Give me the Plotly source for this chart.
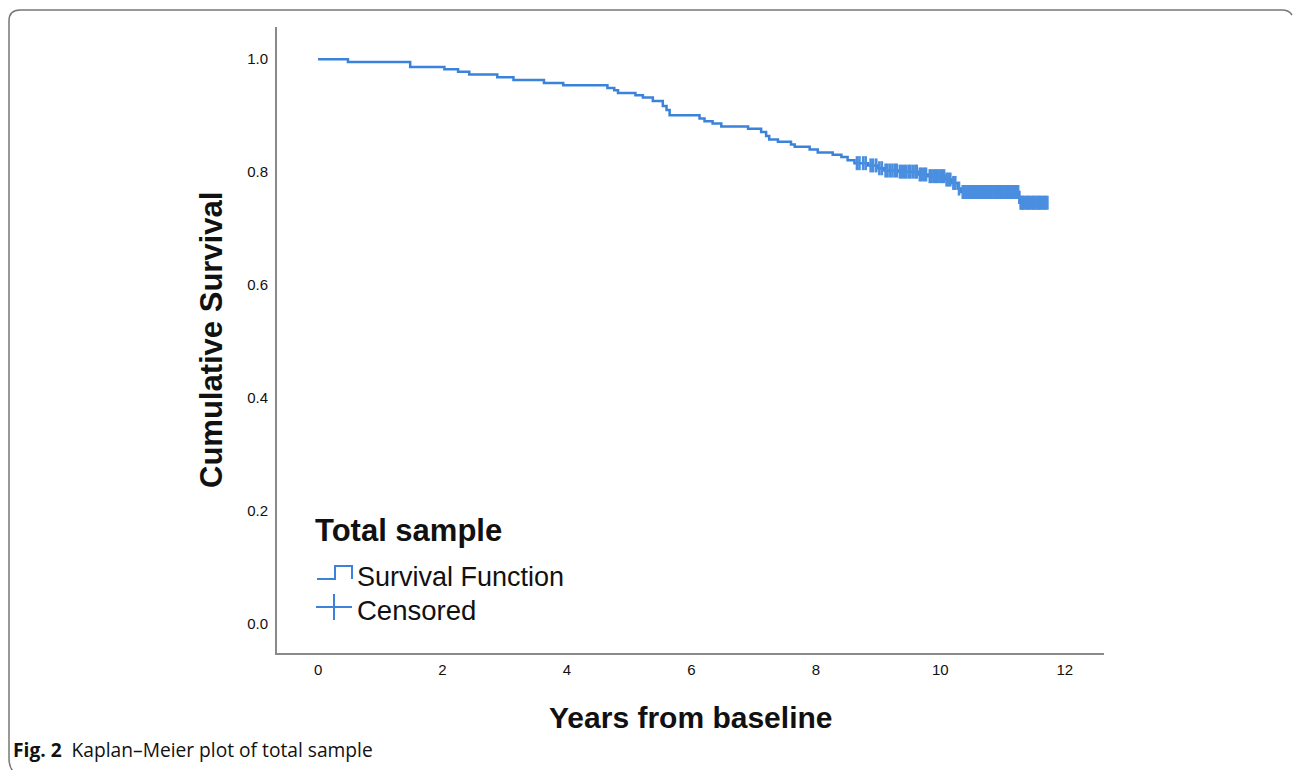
import plotly.graph_objects as go

# ---- data ----
step_times = [0.0, 0.48, 1.48, 2.03, 2.25, 2.43, 2.88, 3.14, 3.63, 3.94, 4.65, 4.76, 4.82,
              5.10, 5.22, 5.38, 5.54, 5.60, 5.65, 6.13, 6.21, 6.34, 6.48, 6.91, 7.12, 7.20,
              7.25, 7.39, 7.60, 7.66, 7.90, 8.03, 8.27, 8.41, 8.51, 8.62, 8.84, 9.00, 9.10,
              9.32, 9.64, 9.80, 10.07, 10.18, 10.28, 10.33, 11.27]
step_surv = [1.000, 0.995, 0.986, 0.982, 0.978, 0.973, 0.968, 0.963, 0.958, 0.954, 0.949, 0.945,
             0.940, 0.936, 0.932, 0.926, 0.917, 0.910, 0.901, 0.895, 0.890, 0.886, 0.881, 0.877,
             0.871, 0.864, 0.858, 0.854, 0.849, 0.845, 0.840, 0.835, 0.831, 0.827, 0.821, 0.816,
             0.812, 0.807, 0.803, 0.801, 0.796, 0.793, 0.787, 0.781, 0.771, 0.765, 0.746]
end_time = 11.72

censor_times = [8.66, 8.70, 8.76, 8.80, 8.88, 8.92, 8.97, 9.02, 9.06, 9.12, 9.15, 9.19, 9.23,
                9.27, 9.30, 9.35, 9.38, 9.42, 9.45, 9.49, 9.52, 9.56, 9.60, 9.62, 9.67, 9.70,
                9.74, 9.77, 9.83, 9.86, 9.90, 9.93, 9.96, 10.00, 10.03, 10.06, 10.10, 10.13,
                10.16, 10.21, 10.24, 10.30, 10.36, 10.39, 10.42, 10.44, 10.46, 10.48, 10.51, 10.53,
                10.55, 10.57, 10.60, 10.62, 10.64, 10.66, 10.69, 10.71, 10.73, 10.75, 10.78,
                10.80, 10.82, 10.84, 10.87, 10.89, 10.91, 10.93, 10.96, 10.98, 11.00, 11.02,
                11.05, 11.07, 11.09, 11.11, 11.14, 11.16, 11.18, 11.20, 11.23, 11.25, 11.29,
                11.31, 11.33, 11.35, 11.38, 11.40, 11.42, 11.44, 11.47, 11.49, 11.51, 11.53,
                11.56, 11.58, 11.60, 11.62, 11.65, 11.67, 11.69, 11.72]

x_ticks = [0, 2, 4, 6, 8, 10, 12]
y_ticks = [0.0, 0.2, 0.4, 0.6, 0.8, 1.0]
y_tick_labels = ["0.0", "0.2", "0.4", "0.6", "0.8", "1.0"]

legend_title = "Total sample"
series_names = ["Survival Function", "Censored"]
x_title = "Years from baseline"
y_title = "Cumulative Survival"

BLUE = "#3b82da"
FONT = "Liberation Sans, Arial"


def surv_at(t):
    s = step_surv[0]
    for tt, ss in zip(step_times, step_surv):
        if tt <= t:
            s = ss
    return s


censor_surv = [surv_at(t) for t in censor_times]

# ---- figure geometry (pixels) ----
W, H = 1293, 770
L, R, T, B = 277, 189, 27, 117
PW, PH = W - L - R, H - T - B


def px(x):
    return (x - L) / PW


def py(y):
    return (H - B - y) / PH


fig = go.Figure()
fig.add_trace(go.Scatter(
    x=step_times + [end_time], y=step_surv + [step_surv[-1]],
    mode="lines", line=dict(color=BLUE, width=2.5, shape="hv"),
    name=series_names[0], showlegend=False, hoverinfo="skip"))
fig.add_trace(go.Scatter(
    x=censor_times, y=censor_surv, mode="markers",
    marker=dict(symbol="line-ns", size=10, line=dict(color="#4a8ee0", width=2.6)),
    name=series_names[1], showlegend=False, hoverinfo="skip"))

axis_common = dict(showgrid=False, zeroline=False, showline=True, linecolor="#8a8a8a",
                   linewidth=2, ticks="", tickfont=dict(family=FONT, size=15, color="#111"))

fig.update_xaxes(range=[-0.66, 12.63], tickvals=x_ticks, ticktext=[str(v) for v in x_ticks],
                 ticklabelstandoff=2, **axis_common)
fig.update_yaxes(range=[-0.051, 1.057], tickvals=y_ticks, ticktext=y_tick_labels,
                 ticklabelstandoff=4, **axis_common)

ann = []
# axis titles
ann.append(dict(x=px(690), y=py(717), xref="paper", yref="paper", text="<b>%s</b>" % x_title,
                showarrow=False, font=dict(family=FONT, size=30, color="#111"),
                xanchor="center", yanchor="middle"))
ann.append(dict(x=px(211), y=py(340), xref="paper", yref="paper", text="<b>%s</b>" % y_title,
                showarrow=False, textangle=-90,
                font=dict(family=FONT, size=31, color="#111"),
                xanchor="center", yanchor="middle"))
# custom legend
ann.append(dict(x=px(313), y=py(530), xref="paper", yref="paper", text="<b>%s</b>" % legend_title,
                showarrow=False, font=dict(family=FONT, size=31, color="#111"),
                xanchor="left", yanchor="middle"))
ann.append(dict(x=px(355), y=py(577), xref="paper", yref="paper", text=series_names[0],
                showarrow=False, font=dict(family=FONT, size=27, color="#111"),
                xanchor="left", yanchor="middle"))
ann.append(dict(x=px(355), y=py(610), xref="paper", yref="paper", text=series_names[1],
                showarrow=False, font=dict(family=FONT, size=27.5, color="#111"),
                xanchor="left", yanchor="middle"))
# caption
ann.append(dict(x=px(11), y=py(749), xref="paper", yref="paper",
                text="<b>Fig. 2</b>  Kaplan–Meier plot of total sample",
                showarrow=False, font=dict(family="Open Sans", size=19.2, color="#111"),
                xanchor="left", yanchor="middle"))

shapes = []
# legend glyphs
glyph_path = "M {} {} L {} {} L {} {} L {} {} L {} {}".format(
    px(317), py(579), px(335), py(579), px(335), py(566), px(352), py(566), px(352), py(579))
shapes.append(dict(type="path", xref="paper", yref="paper", path=glyph_path,
                   line=dict(color=BLUE, width=2)))
shapes.append(dict(type="line", xref="paper", yref="paper", x0=px(316), x1=px(352), y0=py(607), y1=py(607),
                   line=dict(color=BLUE, width=2)))
shapes.append(dict(type="line", xref="paper", yref="paper", x0=px(334), x1=px(334), y0=py(594), y1=py(620),
                   line=dict(color=BLUE, width=2)))
# frame
frame_path = "M {} {} Q {} {} {} {} L {} {} Q {} {} {} {} L {} {} Q {} {} {} {}".format(
    px(14), py(772), px(9), py(768), px(9), py(758),
    px(9), py(21), px(9), py(10), px(20), py(10),
    px(1282), py(10), px(1289), py(10), px(1292), py(15))
shapes.append(dict(type="path", xref="paper", yref="paper", path=frame_path,
                   line=dict(color="#777", width=1.5)))

fig.update_layout(width=W, height=H, margin=dict(l=L, r=R, t=T, b=B, autoexpand=False),
                  paper_bgcolor="white", plot_bgcolor="white", showlegend=False,
                  annotations=ann, shapes=shapes)

fig.write_html("out.html", config={"displayModeBar": False},
               post_script="document.body.style.margin='0';document.body.style.overflow='hidden';")
